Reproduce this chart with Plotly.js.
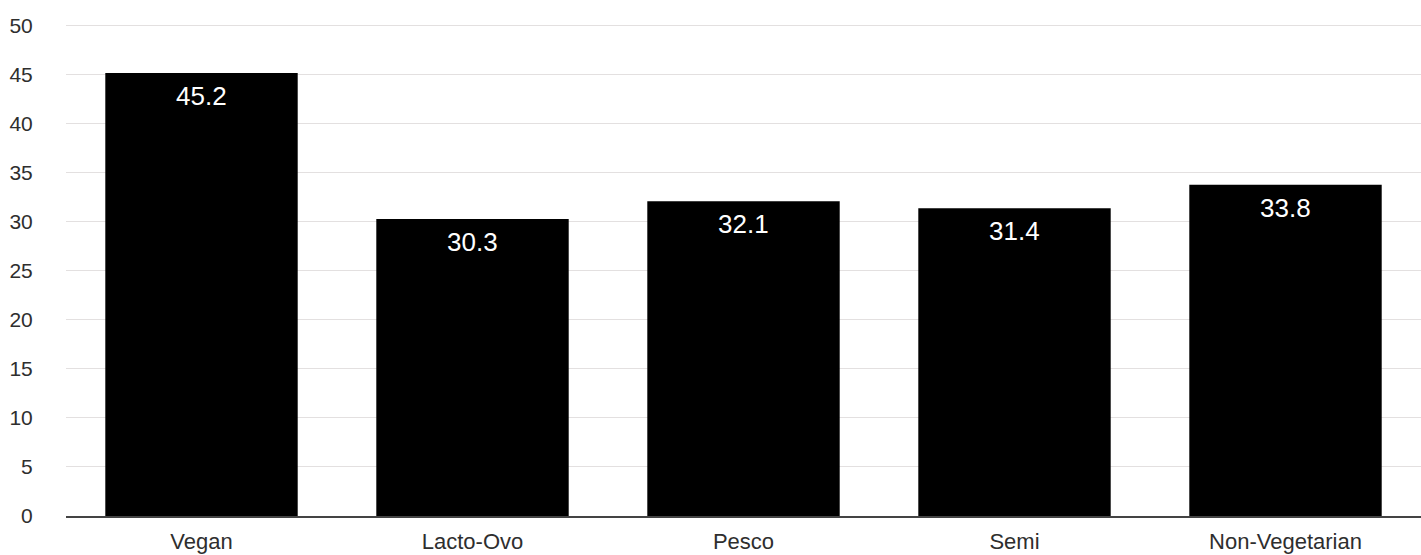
<!DOCTYPE html>
<html><head><meta charset="utf-8">
<script src="https://cdn.plot.ly/plotly-3.0.1.min.js"></script>
<style>html,body{margin:0;padding:0;background:#fff}#chart{width:1421px;height:555px}</style>
</head><body><div id="chart"></div>
<script>
const categories = ["Vegan", "Lacto-Ovo", "Pesco", "Semi", "Non-Vegetarian"];
const values = [45.2, 30.3, 32.1, 31.4, 33.8];
const valueLabels = ["45.2", "30.3", "32.1", "31.4", "33.8"];

const font = "Liberation Sans, Arial, Helvetica, sans-serif";
const trace = {
  type: "bar",
  x: categories,
  y: values,
  marker: {color: "#000000", line: {width: 0}},
  hoverinfo: "x+y"
};
const annotations = categories.map((c, i) => ({
  x: c, y: values[i], xref: "x", yref: "y",
  text: valueLabels[i], showarrow: false,
  yanchor: "top", yshift: -6,
  font: {family: font, size: 26, color: "#ffffff"}
}));
const layout = {
  width: 1421, height: 555,
  margin: {l: 66, r: 0, t: 21, b: 39},
  paper_bgcolor: "#ffffff", plot_bgcolor: "#ffffff",
  bargap: 0.29,
  showlegend: false,
  font: {family: font, color: "#333333"},
  xaxis: {
    type: "category",
    tickfont: {family: font, size: 22, color: "#2e2e2e"},
    showgrid: false, zeroline: false,
    showline: true, linecolor: "#444444", linewidth: 2,
    ticks: "outside", ticklen: 5, tickcolor: "rgba(0,0,0,0)"
  },
  yaxis: {
    range: [0, 50.5], dtick: 5, tick0: 0,
    tickfont: {family: font, size: 21, color: "#2e2e2e"},
    showgrid: true, gridcolor: "#e3e0e0", gridwidth: 1,
    zeroline: false, showline: false,
    ticks: "outside", ticklen: 28, tickcolor: "rgba(0,0,0,0)"
  },
  annotations: annotations
};
Plotly.newPlot("chart", [trace], layout, {displayModeBar: false, staticPlot: true});
</script></body></html>
